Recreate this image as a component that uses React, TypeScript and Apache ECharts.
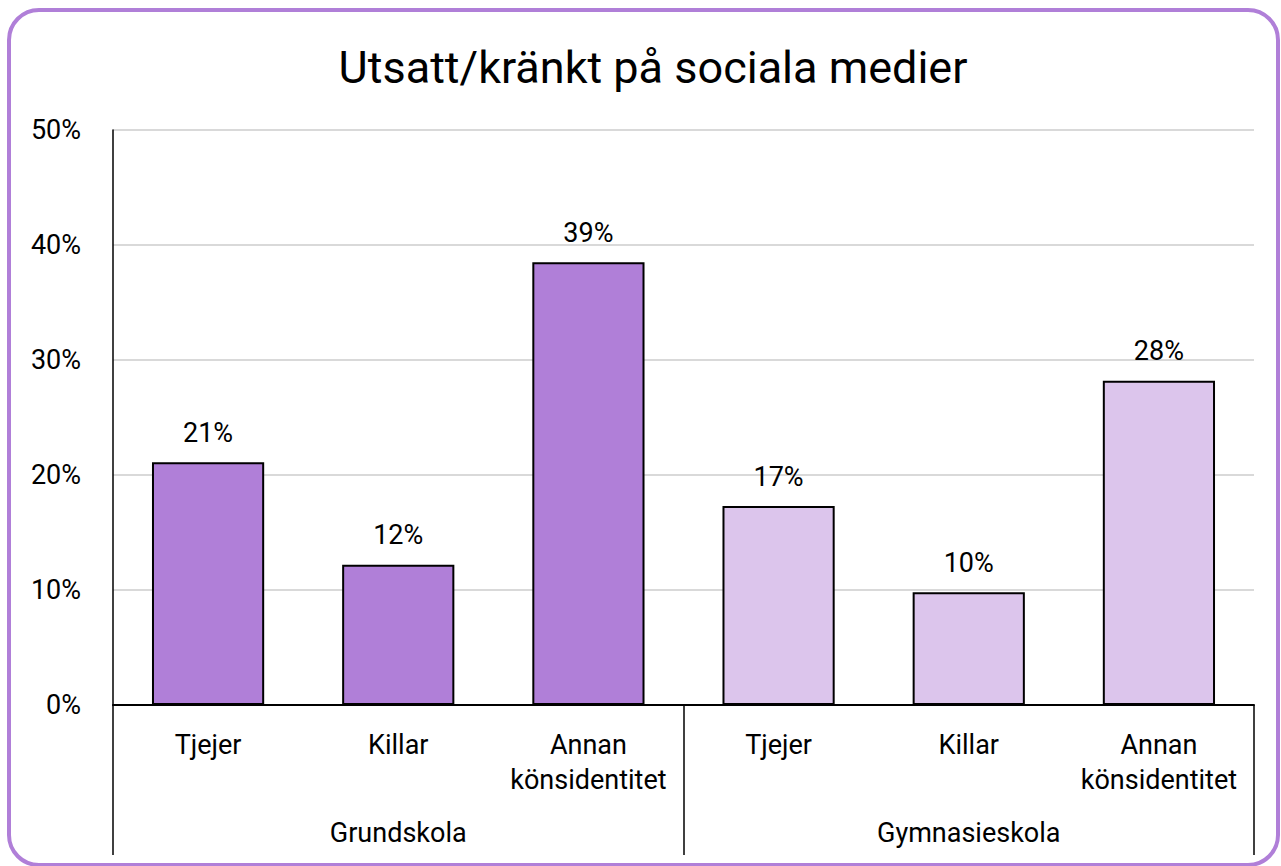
import React, { useEffect, useRef } from "react";
import * as echarts from "echarts";

const subCategories = ["Tjejer", "Killar", "Annan\nkönsidentitet", "Tjejer", "Killar", "Annan\nkönsidentitet"];
const groups = ["Grundskola", "Gymnasieskola"];
const values = [21.1, 12.2, 38.5, 17.3, 9.8, 28.2];
const groupOfBar = [0, 0, 0, 1, 1, 1];
const yTicks = [0, 10, 20, 30, 40, 50];
const groupColors = ["#B07FD8", "#DCC5EC"];

export default function App() {
  const ref = useRef<HTMLDivElement>(null);
  useEffect(() => {
    if (!ref.current) return;
    const chart = echarts.init(ref.current, null, { renderer: "svg" });
    const font = "Roboto";
    chart.setOption({
      animation: false,
      textStyle: { fontFamily: font },
      title: {
        text: "Utsatt/kränkt på sociala medier",
        left: 648,
        textAlign: "center",
        top: 40,
        textStyle: { fontFamily: font, fontSize: 45, fontWeight: "normal", color: "#000" },
      },
      graphic: [
        {
          type: "rect",
          shape: { x: 9, y: 10, width: 1269, height: 855, r: 30 },
          style: { fill: "none", stroke: "#B07FD8", lineWidth: 4 },
          silent: true,
        },
      ],
      grid: { left: 113, right: 27, top: 130, bottom: 161 },
      xAxis: [
        {
          type: "category",
          data: subCategories,
          position: "bottom",
          axisLine: { show: true, lineStyle: { color: "#000", width: 2 } },
          axisTick: { show: false },
          axisLabel: {
            interval: 0,
            fontSize: 27,
            color: "#000",
            margin: 22,
            lineHeight: 35,
            fontFamily: font,
          },
        },
        {
          type: "category",
          data: groups,
          position: "bottom",
          axisLine: { show: false },
          axisTick: { show: true, length: 150, lineStyle: { color: "#000", width: 1.5 } },
          axisLabel: { fontSize: 27, lineHeight: 28, color: "#000", margin: 114, fontFamily: font },
        },
      ],
      yAxis: {
        type: "value",
        min: yTicks[0],
        max: yTicks[yTicks.length - 1],
        interval: 10,
        axisLine: { show: true, lineStyle: { color: "#000", width: 1.5 } },
        axisTick: { show: false },
        splitLine: { lineStyle: { color: "#d9d9d9", width: 2 } },
        axisLabel: { formatter: "{value}%", fontSize: 27, color: "#000", margin: 32, fontFamily: font },
      },
      series: [
        {
          type: "bar",
          xAxisIndex: 0,
          barWidth: "59%",
          data: values.map((v, i) => ({
            value: v,
            itemStyle: { color: groupColors[groupOfBar[i]] },
          })),
          itemStyle: { borderColor: "#000", borderWidth: 2 },
          label: {
            show: true,
            position: "top",
            distance: 16,
            fontSize: 27,
            color: "#000",
            fontFamily: font,
            formatter: (p: any) => Math.round(p.value) + "%",
          },
        },
      ],
    });
    return () => chart.dispose();
  }, []);
  return <div ref={ref} style={{ position: "absolute", left: 0, top: 0, width: 1281, height: 866 }} />;
}
